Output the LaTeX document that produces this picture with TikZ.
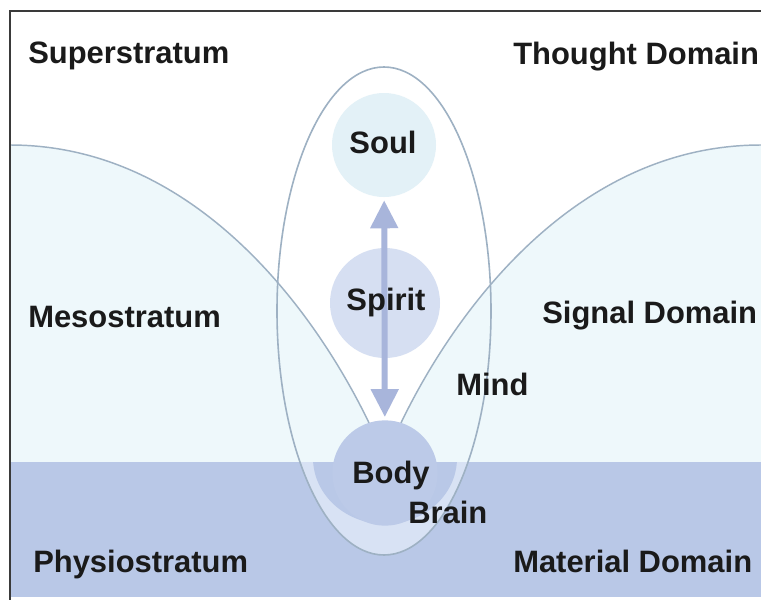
\documentclass[tikz,border=0pt]{standalone}
\usepackage{fontspec}
\setmainfont{Liberation Sans}
\usetikzlibrary{arrows.meta,shapes.geometric}
\definecolor{bowl}{HTML}{EEF8FB}
\definecolor{phys}{HTML}{B9C8E7}
\definecolor{halo}{HTML}{D8E2F4}
\definecolor{linec}{HTML}{9EB1C3}
\definecolor{soulc}{HTML}{E3F1F7}
\definecolor{spiritc}{HTML}{D6DFF2}
\definecolor{bodyc}{HTML}{BCCAE8}
\definecolor{arrowc}{HTML}{A8B5DB}
\definecolor{txt}{HTML}{1A1A1A}
\definecolor{framec}{HTML}{3A3A3A}
\begin{document}
\begin{tikzpicture}[x=0.75pt,y=-0.75pt,
  lbl/.style={font=\fontsize{23.2}{27}\selectfont\bfseries, text=txt, inner sep=0pt},
  orb/.style={circle, inner sep=0pt},
  thinline/.style={draw=linec, line width=1.1pt},
  dblarrow/.style={{Triangle[width=20pt,length=21pt]}-{Triangle[width=20pt,length=21pt]}}]
\useasboundingbox (0,0) rectangle (761,600);
\fill[white] (0,0) rectangle (761,600);
% named coordinates
\coordinate (lt) at (10,145);
\coordinate (le) at (370,425);
\coordinate (re) at (400,425);
\coordinate (rt) at (761,145);
% bowls (signal stratum)
\fill[bowl] (lt) .. controls (200,145) and (320,320) .. (le) -- (re)
  .. controls (450,320) and (570,145) .. (rt) -- (761,462) -- (10,462) -- cycle;
% physio stratum
\fill[phys] (10,462) rectangle (761,597);
% light halo inside the egg, below the boundary
\begin{scope}
  \clip (384,311) ellipse [x radius=80.25pt, y radius=183pt];
  \clip (260,462) rectangle (510,600);
  \fill[halo] (260,462) rectangle (510,600);
  \fill[phys] (385,458) ellipse [x radius=54pt, y radius=49.5pt];
\end{scope}
% bowl curves
\draw[thinline] (lt) .. controls (200,145) and (320,320) .. (le);
\draw[thinline] (re) .. controls (450,320) and (570,145) .. (rt);
% egg
\node[ellipse, draw=linec, line width=1.2pt, minimum width=160.5pt,
  minimum height=366pt, inner sep=0pt] (egg) at (384,311) {};
% orbs
\node[orb, fill=soulc, minimum size=78pt] (soul) at (384,145) {};
\node[orb, fill=spiritc, minimum size=82.5pt] (spirit) at (385,303) {};
\node[orb, fill=bodyc, minimum size=79pt] (body) at (385,473) {};
% arrow
\draw[arrowc, line width=4.5pt, dblarrow, shorten <=2.25pt, shorten >=2.25pt]
  (soul) -- (body);
% labels
\node[lbl, anchor=base] (tsoul) at (383,153) {Soul};
\node[lbl, anchor=base] (tspirit) at (386,310) {Spirit};
\node[lbl, anchor=base] (tbody) at (391,483) {Body};
\node[lbl, anchor=base west] (tbrain) at (408,523) {Brain};
\node[lbl, anchor=base west] (tmind) at (456,395) {Mind};
\node[lbl, anchor=base west] (super) at (28,63) {Superstratum};
\node[lbl, anchor=base west] (thought) at (513,64) {Thought Domain};
\node[lbl, anchor=base west] (meso) at (28,327) {Mesostratum};
\node[lbl, anchor=base west] (signal) at (542,323) {Signal Domain};
\node[lbl, anchor=base west] (physio) at (33,572) {Physiostratum};
\node[lbl, anchor=base west] (material) at (513,572) {Material Domain};
% frame
\draw[framec, line width=1.5pt] (10,600) -- (10,11) -- (761,11);
\end{tikzpicture}
\end{document}
